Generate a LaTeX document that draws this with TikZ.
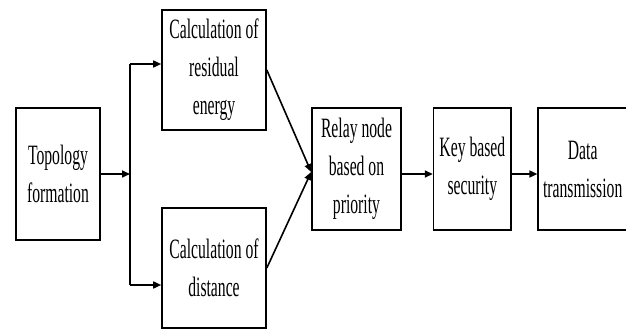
\documentclass[tikz,border=0pt]{standalone}
\usepackage{fontspec}
\setmainfont{Liberation Serif}[FakeStretch=0.56]
\usepackage{xcolor}
\usepackage{tikz}
\usetikzlibrary{arrows.meta,positioning}
\tikzset{
  flowbox/.style={draw=black,line width=1.6pt,fill=white,align=center,
    inner sep=0pt,font=\fontsize{28}{38}\selectfont,minimum height=122pt},
  flowarrow/.style={-{Triangle[length=8pt,width=7pt]},line width=1.6pt,draw=black},
  flowline/.style={line width=1.6pt,draw=black}
}

\begin{document}
\begin{tikzpicture}[x=1pt,y=1pt,node distance=30pt]
\useasboundingbox (0,0) rectangle (626,-329);
\node[flowbox,minimum width=84pt,minimum height=132pt] (topo) at (58,-174) {Topology\\formation};
\node[flowbox,minimum width=104pt,minimum height=120pt] (resid) at (214,-70) {Calculation of\\residual\\energy};
\node[flowbox,minimum width=104pt,minimum height=120pt] (dist) at (214,-268) {Calculation of\\distance};
\node[flowbox,minimum width=89pt] (relay) at (356.5,-169) {Relay node\\based on\\priority};
\node[flowbox,minimum width=77.5pt,right=31pt of relay] (keysec) {Key based\\security};
\node[flowbox,minimum width=89pt,right=25.5pt of keysec] (datatx) {Data\\transmission};
% split towards the two calculations
\coordinate (split) at (130,-174);
\coordinate (splitup) at (130,-64);
\coordinate (splitdn) at (130,-285);
\draw[flowarrow] (topo.east |- split) -- (split);
\draw[flowline] (splitup) -- (splitdn);
\draw[flowarrow] (splitup) -- (splitup -| resid.west);
\draw[flowarrow] (splitdn) -- (splitdn -| dist.west);
\draw[flowarrow] (resid.east) -- ([yshift=-3pt]relay.west);
\draw[flowarrow] (dist.east) -- ([yshift=-3pt]relay.west);
\draw[flowarrow] ([yshift=-5pt]relay.east) -- ([yshift=-5pt]keysec.west);
\draw[flowarrow] ([yshift=-5pt]keysec.east) -- ([yshift=-5pt]datatx.west);
\end{tikzpicture}
\end{document}
